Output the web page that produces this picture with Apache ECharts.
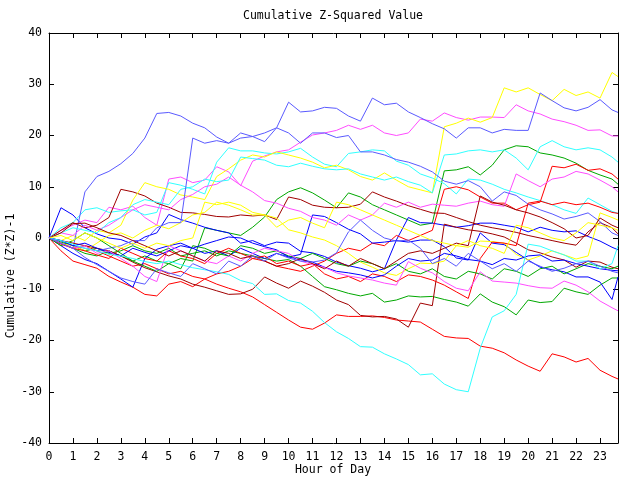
<!DOCTYPE html>
<html><head><meta charset="utf-8">
<script src="https://cdn.jsdelivr.net/npm/echarts@6/dist/echarts.min.js"></script>
<style>html,body{margin:0;padding:0;background:#fff}#c{width:640px;height:480px}</style>
</head><body><div id="c"></div>
<script>
const hours=[0,0.5,1,1.5,2,2.5,3,3.5,4,4.5,5,5.5,6,6.5,7,7.5,8,8.5,9,9.5,10,10.5,11,11.5,12,12.5,13,13.5,14,14.5,15,15.5,16,16.5,17,17.5,18,18.5,19,19.5,20,20.5,21,21.5,22,22.5,23,23.5,23.75];
const xTickLabels=['0','1','2','3','4','5','6','7','8','9','10','11','12','13','14','15','16','17','18','19','20','21','22','23'];
const yTickLabels=['-40','-30','-20','-10','0','10','20','30','40'];

const sA=[0,-1,-2,9,12,13,14.5,16.5,19.5,24.3, 24.5,23.8,22.4,21.5,19.7,18.5,20.5,19.8,18.8,21.5, 26.5,24.6,24.8,25.5,25.3,23.8,22.8,27.3,26,26.3, 24.6,23.5,22.3,21.3,19.5,21.5,21.5,20.5,21.2,21, 21,28.3,26.8,25.4,24.8,25.5,27,25,24.5];
const sB=[0,-0.5,-1.5,-2,-2.5,-2,-1.5,-0.5,-0.5,2, 3,3,19.5,18.5,19,18.5,19.5,19.8,20.5,21.5, 20.5,18.5,20.5,20.5,19.6,20,16.8,16.8,16.2,15.3, 14.8,14,12.9,11.1,10.5,11.2,10,7.2,9,8.3, 6.6,5.5,4.7,3.7,4.2,4.9,3.2,1,0.5];
const sC=[0,-1,-2,-3.8,-5.2,-6.5,-7.8,-8.5,-9,-6, -6.8,-7.5,-5,-6,-7,-4.5,-5.5,-3.5,-4.5,-3, -3.9,-4.5,-4.7,-4.3,-2.9,1.2,3.5,1.5,0,-0.6, -0.4,-2,-5,-4,-5.5,-3,-4.5,-6,-5,-6.5, -4.5,-5.5,-6.5,-5.9,-5,-4.5,-5.5,-6.5,-6.8];
const mA=[0,1.5,2.5,3.5,3,6,5.5,6.2,4,2.5, 11.5,11.9,10.8,11.3,13.9,12.9,10.2,15,16,16.8, 17.2,18.7,20.1,20.5,21,22,21.2,22,20.5,20, 20.5,23.2,22.8,24.4,23.5,23,23.6,23.6,23.5,26, 24.8,24.2,23.2,22.7,22,21,21.1,19.9,19.9];
const mB=[0,1,0.5,2.5,1.5,2.5,4,5.5,6.5,6, 5.5,7.5,8.5,10,10.5,11.9,10.3,9,7.3,6.8, 5.8,5.2,4,3.5,2.5,4.5,3.5,4.5,6.8,6, 7,6,6.6,6.4,6.2,6.8,7.2,6.5,6.2,12.5, 11.2,10,11.5,11.9,13,12.5,11.3,10,9];
const mC=[0,-1,-2,-1.5,-3,-2.5,-4,-5.5,-7.5,-8.5, -1.5,-2.5,-3.5,-4.5,-5,-3.5,-4.5,-3,-2,-2.5, -3,-4.5,-5.2,-5.7,-6.8,-7.4,-7.8,-8.2,-8.8,-9.2, -4.6,-5.9,-6.8,-8.5,-9.8,-10.3,-6.6,-8.4,-8.6,-8.8, -9.3,-9.7,-9.8,-8.4,-9.2,-10.5,-12.3,-13.6,-14.2];
const cA=[0,2,3,5.5,5.9,5,5.3,5.5,4.5,5, 10.8,10.3,9.5,8.6,14.8,17.6,17,17,16.6,16.4, 16.8,17.5,15.8,14.4,13.9,16.5,16.8,17.2,17,15, 14.2,12.5,11.7,10.6,8.6,11.5,11.3,10.5,9.5,8.8, 8,7.3,6.5,5.5,4.8,7.8,6.5,5.2,4.8];
const cB=[0,1,2,1.5,1,3,4,6.5,7.5,7, 6.5,9.5,10,11.5,11,11.3,15.8,15.5,15.2,14.2, 13.9,14.6,14,13.5,13.3,13.5,12.5,11.9,11.3,11.9, 11,10.3,8.8,16.2,16.4,17,17.2,16.8,17.2,15.6, 13.3,17.8,19,17.8,17.2,17.6,17.2,15.8,14.8];
const cC=[0,-0.5,-1.2,-2,-2.5,-3.2,-3.5,-4,-4.6,-5, -4.5,-5.2,-5.8,-6.2,-6.6,-7.1,-8.3,-8.9,-11,-10.9, -12.2,-12.7,-14.3,-16.5,-18.3,-19.6,-21.2,-21.3,-22.6,-23.6, -24.7,-26.7,-26.5,-28.5,-29.6,-30,-21.5,-15.4,-14.2,-11, -1.2,-1.6,-2.5,-3.3,-4.5,-4.5,-6,-5,-1.5];
const rA=[0,-2.5,-4.5,-5.2,-5.9,-7.5,-8.6,-9.6,-11,-11.3, -9,-8.5,-9.5,-8,-9,-9.8,-10.5,-11.5,-13,-14.5, -16,-17.4,-17.8,-16.6,-15,-15.3,-15.3,-15.2,-15.5,-16, -16.2,-16.4,-17.8,-19.2,-19.5,-19.6,-21.1,-21.5,-22.4,-23.8, -25,-26,-22.6,-23.2,-24.2,-23.5,-25.8,-27,-27.5];
const rB=[0,-1,-2,-1.5,-2.5,-3.5,-4.5,-5.5,-5,-6, -7,-6.5,-7.5,-8,-7,-6.5,-5.5,-4,-4.5,-5.5, -6,-6.5,-5.5,-4.5,-3,-2,-2.5,-1,-1.5,0.5, -0.5,0.5,1.5,9.5,10,9.4,8,6.8,6.8,5.5, 6.5,7,14,13.7,14.4,13.2,13.5,12.5,11.5];
const rC=[0,-1.2,-2,-2.5,-3.3,-4,-2,-3,-4,-4.5, -2.5,-3.5,-4,-5,-3,-2,-3,-4,-3.5,-5, -4.5,-5.5,-5,-7,-8,-7.5,-8.5,-7,-7.5,-8.5, -7.2,-7.5,-8.2,-9.2,-10.5,-11.8,-4,-0.8,-1,-1.5, 6.8,7.2,6.5,7,6.5,6.8,6,5,4.8];
const gA=[0,-1,-2,-3,-3.5,-2.5,-3.5,-4.5,-3.5,-4.5, -5,-4,-4.5,2,1.5,1,0.5,2.1,4.1,7.5, 9,9.8,8.8,7.4,5.9,8.8,8,6.5,5.5,4.5, 3.5,2.5,2.9,13.1,13.3,13.9,12.3,14.2,17.2,18, 17.8,16.6,16.2,15.6,14.6,13.2,12.3,11.5,10.5];
const gB=[0,-0.8,-1.5,-2.5,-2,-3,-2.5,-1.5,-2.5,-3, -2,-3.5,-3,-2.5,-3.5,-2.5,-3,-3.5,-4,-4.5, -4.2,-5.5,-7.5,-9.5,-10.1,-10.8,-11.3,-10.8,-12.5,-12.1, -11.3,-11.5,-11.4,-12,-12.5,-13.3,-10.9,-12.5,-13.4,-15, -12.1,-12.6,-12.4,-9.8,-10.5,-11,-9.2,-7.8,-7.8];
const gC=[0,-1.5,-0.5,1,0,-1.5,-3,-4.5,-5.5,-6.5, -5,-6,-1.5,-2,-3,-3.5,-1.5,-2,-3,-2.5, -3.5,-4,-3,-4,-5,-5.5,-4.5,-5,-6,-5, -6.5,-7,-6,-7.5,-8,-6.5,-7,-8,-6,-6.5, -7.5,-6,-5.5,-7,-6,-5,-5.5,-6,-5.5];
const bA=[0,5.9,4.5,2,0.8,0,-0.3,-1.2,0.2,1, 4.6,3.6,2.9,2.1,1.5,1,-1,-0.5,-1.5,-0.8, -1,-2.6,-2.9,-3.6,-4.7,-5.4,-5.9,-6.6,-6,-0.4, 4,3,2.9,2.5,2.1,2.4,2.9,2.9,2.5,2.1, 1.2,2.1,1.5,1.2,1.4,0.3,-0.6,-1.8,-2.3];
const bB=[0,-1.5,-3,-4.2,-5,-6.5,-8,-9.6,-4,-2.2, -1.5,-1,-2,-3,-2.5,-3.5,-2,-3,-4,-3, -3.7,-3.2,4.5,4.2,3,1.7,0.8,-1,-0.8,-0.5, -0.8,-0.4,-0.4,-1.7,-3.9,-4.3,1,-1,-1.3,-2.8, -4.3,-5.7,-6.2,-6.6,-7.6,-7.6,-8.6,-12,-7.6];
const bC=[0,-0.5,-1.5,-1,-2,-2.8,-3.5,-2,-2.8,-3.5, -2.5,-1.5,-2,-1.2,-0.5,0.2,0,-1,-1.7,-2.3, -3.7,-4.2,-4.7,-5.7,-6.5,-6.8,-7.2,-7.8,-7.2,-5.5, -4,-4.5,-4.3,-3,-3.5,-4.2,-4.5,-5.2,-4,-4.3, -3.5,-3.3,-4.5,-4.3,-5,-5.5,-6,-6.3,-6.4];
const dA=[0,1.5,3,2,2.5,4,9.5,9,8.2,6.8, 6,5,4.9,4.6,4.2,4.1,4.5,4.3,4.5,3.6, 8,7.5,6.4,6,5.9,6,6.6,9,8,7.2, 6.3,5.6,4.9,4.8,4,3.2,2.5,2,1.6,1.1, 0.5,0,-0.5,-1,-1.4,1.2,3,2,0.8];
const dB=[0,-0.5,-1,-1.5,-2,-2.5,-3.5,-4.7,-5.8,-6.6, -7.4,-8,-9,-9.6,-10.3,-11,-10.9,-10,-7.6,-8.8, -9.8,-8.4,-9.4,-10.6,-12.1,-13,-15.1,-15.4,-15.3,-15.8, -17.4,-12.7,-13.2,2.7,2.1,1.6,1.3,0.8,0.2,-1, -2.3,-2.9,-3.7,-4.3,-5.7,-4.5,-4.7,-5.7,-6];
const dC=[0,1,2.8,2.9,2,1,0.5,-0.5,-1.5,-2.5, -3.5,-2.5,-3.5,-4.5,-2.5,-3,-4,-3.5,-4.5,-5.5, -5,-4,-5,-6,-4.5,-5.5,-4,-5,-6,-4.5, -3,-2.5,-3,-2,-1,-1.5,8.2,7,6.4,5.5, 4.9,4.1,3,1.8,0,0.5,3.9,2.5,2];
const yA=[0,-0.5,0.5,-0.5,1.5,1,2.5,7.4,10.8,10, 9.5,8.4,8,7.5,12,13.5,15.2,16.2,15.8,16.8, 16.2,15.6,14.8,13.7,14.2,13.3,12,11.3,12.7,11.3, 10,9.4,8.8,21.7,22.4,23.4,22.6,23.5,29.3,28.5, 29.3,28,26.8,29,27.8,28.5,27.3,32.3,31.5];
const yB=[0,-1,-1.5,-2.5,-1,0.5,1,0,1.5,2.5, 1.8,3,4.5,5,7,6.4,5.5,4.5,4.5,3.9, 1.6,1,0.2,-0.4,-1.5,-3,-4.7,-5.7,-6.8,-7.3, -6,-4.9,-5,-4.5,-1.5,-1.8,-0.6,-0.7,-1,-3.2, -4.3,-3.5,-2.5,-3.3,-4.1,-3.5,4.9,4,3.5];
const yC=[0,0.5,-0.5,1,0,-1,-2,-1,-2,-1, -1.5,-0.5,0,7,6.5,7,6.4,5,4.5,2.1, 3.5,4,2.9,2,7,6.5,5.5,4.5,3.5,2.5, 1.5,0.5,-0.5,-1,-1.5,-0.5,-1.5,-2,-3,2.5, 2,1,0,-0.5,1,3,2.5,2,1.5];

const RED='#ff0000',GREEN='#00a800',BLUE='#0000ff',MAG='#ff4cff',CYAN='#30ffff',DRED='#a00000',YEL='#ffff00',SLATE='#5a5aff';
const lines=[
  [rA,RED],[gA,GREEN],[bA,BLUE],[mA,MAG],[cA,CYAN],[dA,DRED],[yA,YEL],[sA,SLATE],
  [rB,RED],[gB,GREEN],[bB,BLUE],[mB,MAG],[cB,CYAN],[dB,DRED],[yB,YEL],[sB,SLATE],
  [rC,RED],[gC,GREEN],[bC,BLUE],[mC,MAG],[cC,CYAN],[dC,DRED],[yC,YEL],[sC,SLATE]
];

const FONT="'DejaVu Sans Mono', 'Liberation Mono', monospace";
const FS=11.5;
const chart=echarts.init(document.getElementById('c'));
const xBase={type:'value',min:0,max:23.75,interval:1,splitLine:{show:false},
  axisLine:{show:true,onZero:false,lineStyle:{color:'#000',width:1}},
  axisTick:{show:true,inside:true,length:5,lineStyle:{color:'#000',width:1}}};
const yBase={type:'value',min:-40,max:40,interval:10,splitLine:{show:false},
  axisLine:{show:true,onZero:false,lineStyle:{color:'#000',width:1}},
  axisTick:{show:true,inside:true,length:5,lineStyle:{color:'#000',width:1}}};
const option={
  animation:false,
  backgroundColor:'#fff',
  grid:{left:49,top:33,width:569,height:410,containLabel:false},
  xAxis:[
    Object.assign({},xBase,{position:'bottom',
      axisLabel:{margin:8,color:'#000',fontFamily:FONT,fontSize:FS,
        formatter:function(v){const i=Math.round(v);return (Math.abs(v-i)<1e-6 && xTickLabels[i]!==undefined)?xTickLabels[i]:'';}}}),
    Object.assign({},xBase,{position:'top',axisLabel:{show:false}})
  ],
  yAxis:[
    Object.assign({},yBase,{position:'left',
      axisLabel:{margin:7,color:'#000',fontFamily:FONT,fontSize:FS,
        formatter:function(v){const i=Math.round((v+40)/10);return yTickLabels[i]||'';}}}),
    Object.assign({},yBase,{position:'right',axisLabel:{show:false}})
  ],
  graphic:[
    {type:'text',x:333,y:16,style:{text:'Cumulative Z-Squared Value',fill:'#000',font:FS+'px '+FONT,textAlign:'center',textVerticalAlign:'middle'}},
    {type:'text',x:333,y:470,style:{text:'Hour of Day',fill:'#000',font:FS+'px '+FONT,textAlign:'center',textVerticalAlign:'middle'}},
    {type:'text',x:11,y:276,rotation:Math.PI/2,style:{text:'Cumulative (Z*Z)-1',fill:'#000',font:FS+'px '+FONT,textAlign:'center',textVerticalAlign:'middle'}}
  ],
  series:lines.map(function(l){
    return {type:'line',xAxisIndex:0,yAxisIndex:0,showSymbol:false,symbol:'none',silent:true,
      lineStyle:{color:l[1],width:1},itemStyle:{color:l[1]},emphasis:{disabled:true},
      data:hours.map(function(h,i){return [h,l[0][i]];})};
  })
};
chart.setOption(option);
</script>
</body></html>
